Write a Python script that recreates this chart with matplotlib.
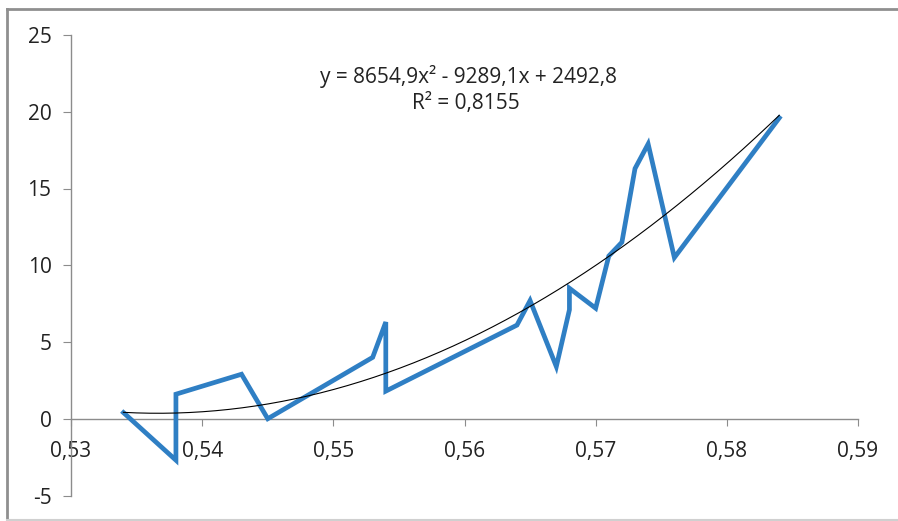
import numpy as np
import matplotlib
matplotlib.use("Agg")
import matplotlib.pyplot as plt
from matplotlib.lines import Line2D
from matplotlib.ticker import FuncFormatter

# measured points (x, y) in recorded order
x_vals = [0.534, 0.538, 0.538, 0.543, 0.545, 0.553, 0.554, 0.554, 0.564, 0.565,
          0.567, 0.568, 0.568, 0.570, 0.571, 0.572, 0.573, 0.574, 0.576, 0.584]
y_vals = [0.4, -2.7, 1.6, 2.9, 0.0, 4.0, 6.3, 1.8, 6.1, 7.7,
          3.4, 7.1, 8.5, 7.2, 10.6, 11.5, 16.3, 17.9, 10.5, 19.6]

# quadratic trend coefficients and fit quality
trend_coef = [8654.9, -9289.1, 2492.8]
r_squared = 0.8155

x_ticks = [0.53, 0.54, 0.55, 0.56, 0.57, 0.58, 0.59]
y_ticks = [-5, 0, 5, 10, 15, 20, 25]

plt.rcParams['font.family'] = ['Open Sans', 'DejaVu Sans']

fig = plt.figure(figsize=(8.98, 5.21), dpi=100)
ax = fig.add_axes([71 / 898, 1 - 495.5 / 521, (858 - 71) / 898, (495.5 - 35) / 521])

axis_grey = '#8c8c8c'
text_col = '#222222'
fs = 15

ax.plot(x_vals, y_vals, color='#2f7fc4', lw=3.4, solid_joinstyle='miter', zorder=3)

poly = np.poly1d(trend_coef)
xt = np.linspace(min(x_vals), max(x_vals), 200)
ax.plot(xt, poly(xt), color='black', lw=0.8, zorder=4)

def comma_fmt(v, pos):
    return ('%g' % round(v, 2)).replace('.', ',')

ax.set_xlim(0.53, 0.59)
ax.set_ylim(-5, 25)
ax.set_xticks(x_ticks)
ax.set_yticks(y_ticks)
ax.xaxis.set_major_formatter(FuncFormatter(comma_fmt))
ax.yaxis.set_major_formatter(FuncFormatter(comma_fmt))

for s in ['top', 'right']:
    ax.spines[s].set_visible(False)
ax.spines['bottom'].set_position(('data', 0))
ax.spines['bottom'].set_color(axis_grey)
ax.spines['left'].set_color(axis_grey)
ax.spines['bottom'].set_linewidth(1)
ax.spines['left'].set_linewidth(1)

ax.tick_params(axis='x', direction='out', length=5, color=axis_grey, pad=11,
               labelsize=fs, labelcolor=text_col)
ax.tick_params(axis='y', direction='out', length=6, color=axis_grey, pad=8,
               labelsize=fs, labelcolor=text_col)

ax.text(0.505, 0.909, 'y = 8654,9x² - 9289,1x + 2492,8',
        transform=ax.transAxes, ha='center', va='center', fontsize=fs, color=text_col)
ax.text(0.502, 0.852, 'R² = ' + str(r_squared).replace('.', ','),
        transform=ax.transAxes, ha='center', va='center', fontsize=fs, color=text_col)

# chart frame
fig.add_artist(Line2D([7 / 898, 7 / 898], [1 - 9 / 521, 0], transform=fig.transFigure,
                      color='#8f8f8f', lw=2))
fig.add_artist(Line2D([7 / 898, 1], [1 - 9 / 521, 1 - 9 / 521], transform=fig.transFigure,
                      color='#8f8f8f', lw=2))
fig.add_artist(Line2D([7 / 898, 1], [1.5 / 521, 1.5 / 521], transform=fig.transFigure,
                      color='#d0d0d0', lw=1.5))

fig.savefig('out.png', dpi=100)
